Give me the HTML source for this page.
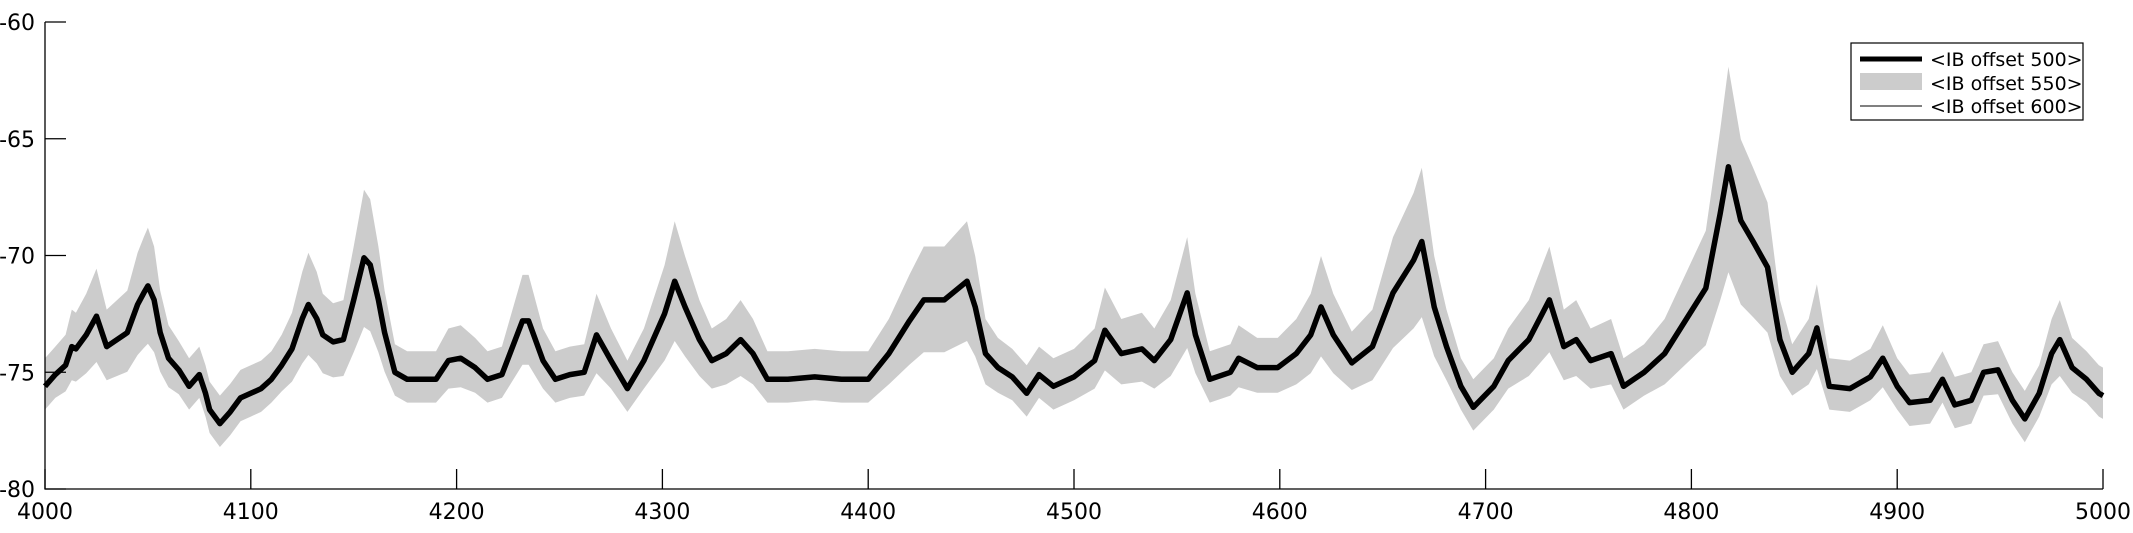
<!DOCTYPE html>
<html><head><meta charset="utf-8"><style>
html,body{margin:0;padding:0;background:#fff;}
svg{display:block;font-family:"DejaVu Sans","Liberation Sans",sans-serif;}
</style></head><body>
<svg id="chart" width="2133" height="533" viewBox="0 0 2133 533" xmlns="http://www.w3.org/2000/svg">
<g id="band"></g>
<g id="lines"></g>
<g id="axes"></g>
<g>
<rect x="1851" y="43" width="232" height="77" fill="#fff" stroke="#000" stroke-width="1.2"/>
<line x1="1860" y1="59" x2="1922" y2="59" stroke="#000" stroke-width="5"/>
<rect x="1860" y="73" width="62" height="17" fill="#cccccc"/>
<line x1="1860" y1="106" x2="1922" y2="106" stroke="#000" stroke-width="1"/>
<text x="1930" y="66" font-size="19">&lt;IB offset 500&gt;</text>
<text x="1930" y="90" font-size="19">&lt;IB offset 550&gt;</text>
<text x="1930" y="113" font-size="19">&lt;IB offset 600&gt;</text>
</g>
</svg>
<script>
const xs=[4000,4005,4010,4013,4015,4020,4025,4030,4035,4040,4045,4048,4050,4053,4056,4060,4065,4070,4075,4078,4080,4085,4090,4095,4100,4105,4110,4115,4120,4125,4128,4132,4135,4140,4145,4150,4155,4158,4162,4165,4170,4176,4190,4196,4202,4209,4215,4222,4232,4235,4242,4248,4255,4262,4268,4275,4283,4291,4301,4306,4311,4318,4324,4331,4338,4344,4351,4361,4374,4387,4400,4410,4420,4427,4437,4448,4452,4457,4463,4470,4477,4483,4490,4500,4510,4515,4523,4533,4539,4547,4555,4559,4566,4576,4580,4589,4599,4608,4615,4620,4626,4635,4645,4655,4665,4669,4675,4681,4688,4694,4704,4711,4721,4731,4738,4744,4751,4761,4767,4777,4787,4797,4807,4814,4818,4824,4830,4837,4843,4849,4857,4861,4867,4877,4887,4893,4900,4906,4916,4922,4928,4936,4942,4949,4956,4962,4969,4975,4979,4985,4992,4998,5000];
const mean=[-75.6,-75.1,-74.7,-73.9,-74,-73.4,-72.6,-73.9,-73.6,-73.3,-72.1,-71.6,-71.3,-71.9,-73.3,-74.4,-74.9,-75.6,-75.1,-75.9,-76.6,-77.2,-76.7,-76.1,-75.9,-75.7,-75.3,-74.7,-74,-72.7,-72.1,-72.7,-73.4,-73.7,-73.6,-71.9,-70.1,-70.4,-71.9,-73.3,-75,-75.3,-75.3,-74.5,-74.4,-74.8,-75.3,-75.1,-72.8,-72.8,-74.5,-75.3,-75.1,-75,-73.4,-74.5,-75.7,-74.5,-72.5,-71.1,-72.2,-73.6,-74.5,-74.2,-73.6,-74.2,-75.3,-75.3,-75.2,-75.3,-75.3,-74.2,-72.8,-71.9,-71.9,-71.1,-72.2,-74.2,-74.8,-75.2,-75.9,-75.1,-75.6,-75.2,-74.5,-73.2,-74.2,-74,-74.5,-73.6,-71.6,-73.4,-75.3,-75,-74.4,-74.8,-74.8,-74.2,-73.4,-72.2,-73.4,-74.6,-73.9,-71.6,-70.2,-69.4,-72.2,-73.9,-75.6,-76.5,-75.6,-74.5,-73.6,-71.9,-73.9,-73.6,-74.5,-74.2,-75.6,-75,-74.2,-72.8,-71.4,-68.2,-66.2,-68.5,-69.4,-70.5,-73.6,-75,-74.2,-73.1,-75.6,-75.7,-75.2,-74.4,-75.6,-76.3,-76.2,-75.3,-76.4,-76.2,-75,-74.9,-76.2,-77,-75.9,-74.2,-73.6,-74.8,-75.3,-75.9,-76];
const xTicks=[4000,4100,4200,4300,4400,4500,4600,4700,4800,4900,5000];
const yTicks=[-60,-65,-70,-75,-80];
const X0=45,X1=2103,Y0=22,Y1=489;
const sx=v=>X0+(v-4000)*(X1-X0)/1000;
const sy=v=>Y0+(-60-v)*(Y1-Y0)/20;
const NS="http://www.w3.org/2000/svg";
function mk(t,a,p){const e=document.createElementNS(NS,t);for(const k in a)e.setAttribute(k,a[k]);p.appendChild(e);return e;}
const up=mean.map(m=>m+1.2+Math.max(0,m+75)*0.35);
const lo=mean.map(m=>m-1.0-Math.max(0,m+75)*0.4);
let d="M"+xs.map((x,i)=>sx(x).toFixed(1)+","+sy(up[i]).toFixed(1)).join("L");
d+="L"+xs.map((x,i)=>[sx(x).toFixed(1),sy(lo[i]).toFixed(1)]).reverse().map(p=>p.join(",")).join("L")+"Z";
const band=mk("path",{d:d,fill:"#cccccc"},document.getElementById("band"));


const pts=xs.map((x,i)=>sx(x).toFixed(1)+","+sy(mean[i]).toFixed(1)).join(" ");
const L=document.getElementById("lines");
const l1=mk("polyline",{points:pts,fill:"none",stroke:"#000","stroke-width":5.5,"stroke-linejoin":"round"},L);


const l2=mk("polyline",{points:pts,fill:"none",stroke:"#000","stroke-width":1},L);


const A=document.getElementById("axes");
const ax=mk("path",{d:`M${X0},${Y0}V${Y1}H${X1}`,fill:"none",stroke:"#000","stroke-width":1.3},A);


xTicks.forEach(v=>{
 const t=mk("line",{x1:sx(v),x2:sx(v),y1:Y1,y2:Y1-20,stroke:"#000","stroke-width":1.3},A);
 
 
 const tx=mk("text",{x:sx(v),y:Y1+30,"font-size":22,"text-anchor":"middle"},A);
 
 
 tx.textContent=v;
});
yTicks.forEach(v=>{
 const t=mk("line",{x1:X0,x2:X0+21,y1:sy(v),y2:sy(v),stroke:"#000","stroke-width":1.3},A);
 
 
 const tx=mk("text",{x:X0-10,y:sy(v)+8,"font-size":22,"text-anchor":"end"},A);
 
 
 tx.textContent=String(v);
});
</script>
</body></html>
